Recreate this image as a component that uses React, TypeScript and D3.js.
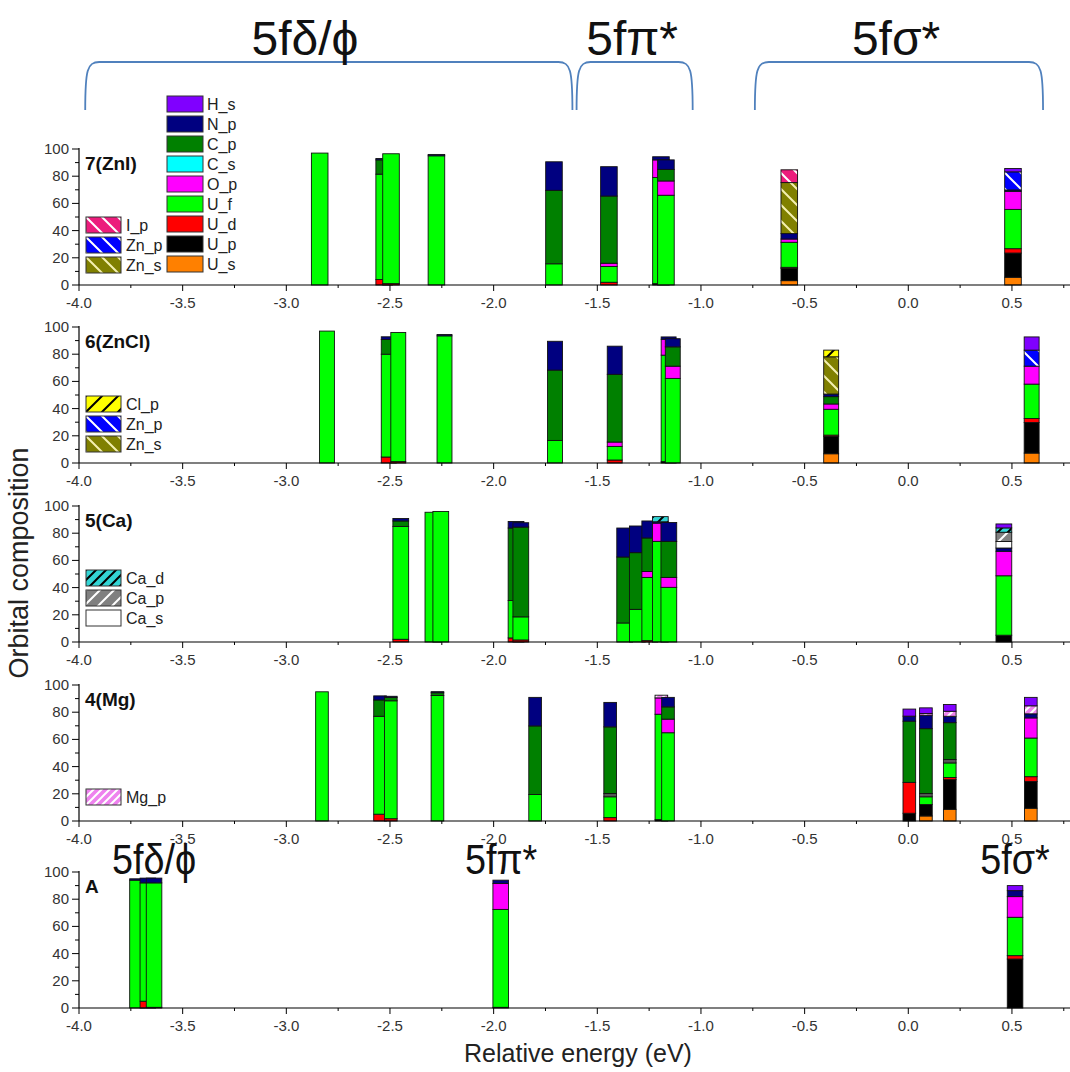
import React from "react";
import * as d3 from "d3";

// stacking order, bottom -> top
const seriesKeys = ["U_s", "U_p", "U_d", "U_f", "Mg_s", "O_p", "C_s", "C_p", "N_p", "Ca_s", "Ca_p", "Ca_d", "Zn_s", "Zn_p", "Cl_p", "I_p", "Mg_p", "H_s"];
const seriesColors = ["#ff8000", "#000000", "#ff0000", "#00ff00", "#555555", "#ff00ff", "#00ffff", "#008000", "#000080", "#ffffff", "#808080", "#33d4d4", "#808000", "#0000ff", "#ffff00", "#ec1c7c", "#ee82ee", "#8000ff"];

const hatchKeys = ["I_p", "Zn_p", "Zn_s", "Cl_p", "Ca_d", "Ca_p", "Mg_p"];
const hatchDir = ["\\", "\\", "\\", "/", "/", "/", "/"];
const hatchLine = ["#ffffff", "#ffffff", "#f4f0b0", "#000000", "#000000", "#ffffff", "#ffffff"];
const hatchGap = [16, 16, 16, 16, 10, 14, 8];

const mainLegend = ["H_s", "N_p", "C_p", "C_s", "O_p", "U_f", "U_d", "U_p", "U_s"];

// 7(ZnI)
const znIEnergy = [-2.839, -2.528, -2.495, -2.276, -1.709, -1.444, -1.193, -1.169, -0.574, 0.505];
const znIComp = [
  { U_f: 97 },
  { U_d: 4, U_f: 77.5, C_p: 10.5, N_p: 1 },
  { U_d: 1, U_f: 95.5 },
  { U_f: 95, N_p: 1 },
  { U_f: 15.6, C_p: 54, N_p: 21 },
  { U_d: 2, U_f: 11.6, O_p: 2.4, C_p: 49.4, N_p: 21.6 },
  { U_p: 1, U_f: 78, O_p: 13, N_p: 2.3 },
  { U_f: 66, O_p: 10.5, C_p: 8.5, N_p: 7 },
  { U_s: 3.2, U_p: 9, U_d: 0.8, U_f: 18.4, O_p: 2.4, N_p: 4, Zn_s: 37.5, I_p: 9.4 },
  { U_s: 5.7, U_p: 17.8, U_d: 3.2, U_f: 28.9, O_p: 13.3, N_p: 1, Zn_p: 13.3, H_s: 2.5 },
];

// 6(ZnCl)
const znClEnergy = [-2.804, -2.506, -2.46, -2.237, -1.704, -1.416, -1.156, -1.136, -0.372, 0.595];
const znClComp = [
  { U_f: 97 },
  { U_d: 4.4, U_f: 75.6, C_p: 10.8, N_p: 2 },
  { U_d: 1, U_f: 95 },
  { U_f: 93.5, N_p: 1 },
  { U_f: 16.6, C_p: 51.7, N_p: 21.2 },
  { U_d: 2.2, U_f: 10, O_p: 3.2, C_p: 49.8, N_p: 20.7 },
  { U_p: 1, U_f: 78.3, O_p: 11.7, N_p: 1.7 },
  { U_f: 62.2, O_p: 9, C_p: 14.2, N_p: 6 },
  { U_s: 6.8, U_p: 12.7, U_d: 1, U_f: 19, O_p: 3.9, C_p: 5.4, N_p: 1.9, Zn_s: 27.4, Cl_p: 4.9 },
  { U_s: 7.3, U_p: 22.5, U_d: 2.9, U_f: 25.3, O_p: 13.2, Zn_p: 11.8, H_s: 9.7 },
];

// 5(Ca)
const caEnergy = [-2.448, -2.293, -2.255, -1.892, -1.869, -1.368, -1.307, -1.247, -1.196, -1.155, 0.461];
const caComp = [
  { U_d: 2, U_f: 83, C_p: 4, N_p: 1.8 },
  { U_f: 95.4 },
  { U_f: 96 },
  { U_d: 3, U_f: 27.5, C_p: 53.3, N_p: 4.8 },
  { U_d: 1.5, U_f: 17, C_p: 66, N_p: 3.2 },
  { U_f: 14, C_p: 48.5, N_p: 21.3 },
  { U_f: 24, C_p: 41.7, N_p: 19.6 },
  { U_d: 1, U_f: 46.5, O_p: 4.3, C_p: 24.7, N_p: 12.5 },
  { U_f: 74, O_p: 13.4, N_p: 1, Ca_d: 3.8 },
  { U_f: 40.2, O_p: 7.3, C_p: 26.5, N_p: 13.9 },
  { U_p: 5, U_f: 43.7, O_p: 18, N_p: 2.4, Ca_s: 4.8, Ca_p: 6.8, Ca_d: 3.2, H_s: 2.9 },
];

// 4(Mg)
const mgEnergy = [-2.828, -2.548, -2.496, -2.271, -1.8, -1.438, -1.191, -1.159, 0.005, 0.085, 0.2, 0.591];
const mgComp = [
  { U_f: 95 },
  { U_d: 5, U_f: 72, C_p: 12, N_p: 3 },
  { U_d: 1.7, U_f: 86.7, C_p: 2.5, N_p: 0.8 },
  { U_f: 92.3, C_p: 2, N_p: 0.8 },
  { U_f: 19.5, C_p: 50.4, N_p: 21 },
  { U_d: 2.5, U_f: 15.3, Mg_s: 2.4, C_p: 49, N_p: 18 },
  { U_p: 1, U_f: 77.5, O_p: 12, Mg_p: 2 },
  { U_f: 64.9, O_p: 10, C_p: 9, N_p: 7 },
  { U_p: 5.7, U_d: 22.7, C_p: 45, N_p: 3.7, H_s: 5.2 },
  { U_s: 3.7, U_p: 8.4, U_f: 5.7, Mg_s: 2.4, C_p: 47.7, N_p: 9.9, Mg_p: 1.2, H_s: 4.2 },
  { U_s: 8.6, U_p: 21.8, U_d: 1.6, U_f: 10.7, Mg_s: 2.5, C_p: 27.1, N_p: 4.7, Mg_p: 3.7, H_s: 5 },
  { U_s: 9.4, U_p: 19.7, U_d: 3.5, U_f: 28.4, O_p: 14.8, N_p: 3, Mg_p: 5.9, H_s: 6.2 },
];

// A
const aEnergy = [-3.718, -3.668, -3.638, -1.966, 0.515];
const aComp = [
  { U_f: 94, N_p: 1 },
  { U_d: 5, U_f: 87, N_p: 3.5 },
  { U_d: 0.5, U_f: 91.5, N_p: 3.5 },
  { U_d: 0.5, U_f: 72, O_p: 19, N_p: 2.5 },
  { U_p: 36, U_d: 2.5, U_f: 28.2, O_p: 15.2, N_p: 4.4, H_s: 3.7 },
];

const panelNames = ["7(ZnI)", "6(ZnCl)", "5(Ca)", "4(Mg)", "A"];
const panelEnergies = [znIEnergy, znClEnergy, caEnergy, mgEnergy, aEnergy];
const panelComps = [znIComp, znClComp, caComp, mgComp, aComp];
const panelBarWidth = [0.08, 0.072, 0.076, 0.061, 0.075];
const panelLegends = [["I_p", "Zn_p", "Zn_s"], ["Cl_p", "Zn_p", "Zn_s"], ["Ca_d", "Ca_p", "Ca_s"], ["Mg_p"], []];

const groupLabels = ["5f\u03b4/\u03d5", "5f\u03c0*", "5f\u03c3*"];
const groupRanges = [[-3.97, -1.62], [-1.6, -1.04], [-0.74, 0.65]];
const topLabelEnergy = [-2.91, -1.332, -0.059];
const bottomLabelEnergy = [-3.638, -1.964, 0.515];

const yTicks = [0, 20, 40, 60, 80, 100];
const xMajor = d3.range(-8, 2).map((i) => i * 0.5);
const xMinor = d3.range(-16, 4).map((i) => i * 0.25).filter((v) => Math.abs(v * 2 - Math.round(v * 2)) > 1e-6);

const W = 1070, H = 1072;
const FONT = "'Liberation Sans', Arial, sans-serif";
const panelBase = [285, 463, 642, 821, 1008];
const panelH = 136;
const legendOffset = [68, 69, 64, 104, 0];

const x = d3.scaleLinear().domain([-4, 0.78]).range([79, 1070]);
const colorOf = d3.scaleOrdinal<string, string>().domain(seriesKeys).range(seriesColors);
const fmt = (v: number) => d3.format(".1f")(v).replace("\u2212", "-");
const fillOf = (k: string) => (hatchKeys.includes(k) ? `url(#hatch-${k})` : colorOf(k));

const stack = d3.stack<any>().keys(seriesKeys).value((d: any, k: string) => d[k] ?? 0);

function Panel({ idx }: { idx: number }) {
  const base = panelBase[idx];
  const y = d3.scaleLinear().domain([0, 100]).range([base, base - panelH]);
  const energies = panelEnergies[idx];
  const series = stack(panelComps[idx]);
  const bw = panelBarWidth[idx];
  const legend = panelLegends[idx];
  const lTop = base - panelH + legendOffset[idx];
  return (
    <g>
      {energies.map((e, i) => (
        <g key={i}>
          {series
            .filter((s) => s[i][1] - s[i][0] > 0)
            .map((s) => (
              <rect
                key={s.key}
                x={x(e - bw / 2)}
                width={x(e + bw / 2) - x(e - bw / 2)}
                y={y(s[i][1])}
                height={y(s[i][0]) - y(s[i][1])}
                fill={fillOf(s.key)}
                stroke="#111"
                strokeWidth={0.9}
              />
            ))}
        </g>
      ))}
      {/* axes */}
      <line x1={x(-4)} x2={W} y1={base} y2={base} stroke="#000" strokeWidth={1.2} />
      <line x1={x(-4)} x2={x(-4)} y1={base} y2={y(100) - 1} stroke="#000" strokeWidth={1.2} />
      {xMajor.map((v) => (
        <g key={v}>
          <line x1={x(v)} x2={x(v)} y1={base} y2={base + 6} stroke="#000" />
          <text x={x(v)} y={base + 23} textAnchor="middle" fontSize={15} fill="#333" fontFamily={FONT}>
            {fmt(v)}
          </text>
        </g>
      ))}
      {xMinor.map((v) => (
        <line key={v} x1={x(v)} x2={x(v)} y1={base} y2={base + 3} stroke="#000" />
      ))}
      {yTicks.map((v) => (
        <g key={v}>
          <line x1={x(-4) - 7} x2={x(-4)} y1={y(v)} y2={y(v)} stroke="#000" />
          <text x={x(-4) - 10} y={y(v) + 5} textAnchor="end" fontSize={15} fill="#333" fontFamily={FONT}>
            {v}
          </text>
        </g>
      ))}
      {[10, 30, 50, 70, 90].map((v) => (
        <line key={v} x1={x(-4) - 4} x2={x(-4)} y1={y(v)} y2={y(v)} stroke="#000" />
      ))}
      <text x={85} y={y(100) + 21} fontSize={19} fontWeight="bold" fontFamily={FONT} fill="#111">
        {panelNames[idx]}
      </text>
      {legend.map((k, j) => (
        <g key={k} transform={`translate(86,${lTop + j * 20})`}>
          <rect width={35} height={16} fill={fillOf(k)} stroke="#333" strokeWidth={1} />
          <text x={40} y={14} fontSize={16} fontFamily={FONT} fill="#222">
            {k}
          </text>
        </g>
      ))}
    </g>
  );
}

function bracePath(x1: number, x2: number) {
  const top = 62, bot = 110;
  return `M${x1},${bot} C${x1},${top + 8} ${x1 + 2},${top} ${x1 + 14},${top} L${x2 - 14},${top} C${x2 - 2},${top} ${x2},${top + 8} ${x2},${bot}`;
}

export default function App() {
  return (
    <svg width={W} height={H} style={{ position: "absolute", left: 0, top: 0, background: "#fff" }}>
      <defs>
        {hatchKeys.map((k, i) => {
          const s = hatchGap[i];
          const d =
            hatchDir[i] === "/"
              ? `M0,${s} L${s},0 M${-s / 2},${s / 2} L${s / 2},${-s / 2} M${s / 2},${1.5 * s} L${1.5 * s},${s / 2}`
              : `M0,0 L${s},${s} M${-s / 2},${s / 2} L${s / 2},${1.5 * s} M${s / 2},${-s / 2} L${1.5 * s},${s / 2}`;
          return (
            <pattern key={k} id={`hatch-${k}`} patternUnits="userSpaceOnUse" width={s} height={s}>
              <rect width={s} height={s} fill={colorOf(k)} />
              <path d={d} stroke={hatchLine[i]} strokeWidth={2} />
            </pattern>
          );
        })}
      </defs>
      <rect width={W} height={H} fill="#fff" />

      {groupRanges.map((r, i) => (
        <path key={i} d={bracePath(x(r[0]), x(r[1]))} fill="none" stroke="#5081bd" strokeWidth={1.8} />
      ))}
      {groupLabels.map((g, i) => (
        <text key={g} x={x(topLabelEnergy[i])} y={55} textAnchor="middle" fontSize={48} fontFamily={FONT} fill="#111">
          {g}
        </text>
      ))}

      {panelNames.map((_, i) => (
        <Panel key={i} idx={i} />
      ))}

      {mainLegend.map((k, j) => (
        <g key={k} transform={`translate(167,${96 + j * 20})`}>
          <rect width={36} height={16} fill={colorOf(k)} stroke="#333" strokeWidth={1} />
          <text x={40} y={14} fontSize={16} fontFamily={FONT} fill="#222">
            {k}
          </text>
        </g>
      ))}

      {groupLabels.map((g, i) => (
        <text
          key={g}
          transform={`translate(${x(bottomLabelEnergy[i])},874) scale(0.9,1)`}
          textAnchor="middle"
          fontSize={42}
          fontFamily={FONT}
          fill="#111"
        >
          {g}
        </text>
      ))}

      <text transform="translate(28,563) rotate(-90)" textAnchor="middle" fontSize={27} fontFamily={FONT} fill="#222">
        Orbital composition
      </text>
      <text x={578} y={1062} textAnchor="middle" fontSize={25} fontFamily={FONT} fill="#222">
        Relative energy (eV)
      </text>
    </svg>
  );
}
